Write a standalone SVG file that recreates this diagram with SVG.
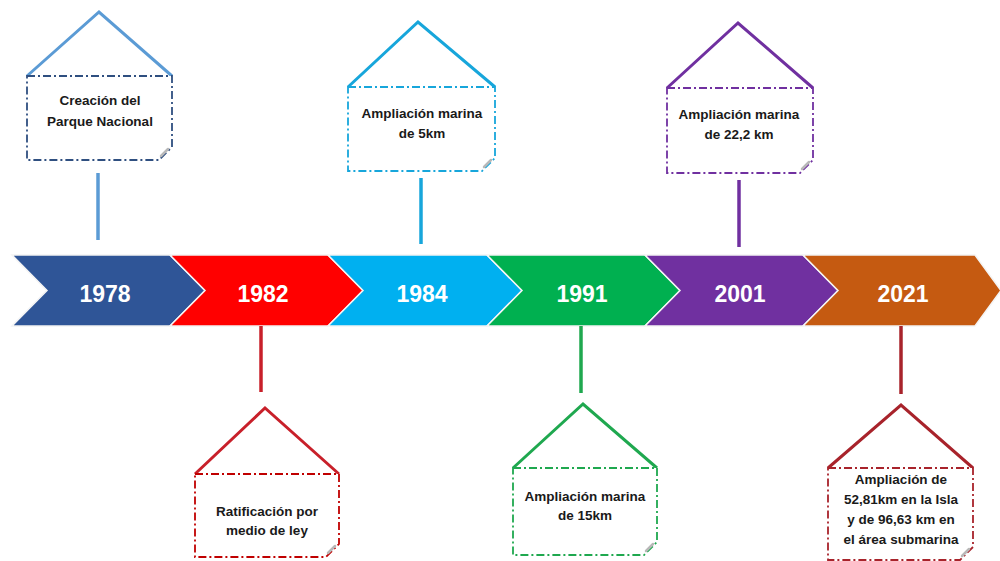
<svg xmlns="http://www.w3.org/2000/svg" width="1000" height="561" viewBox="0 0 1000 561">
<style>
.bg{fill:#ffffff}
.chev{stroke:#f4f4f4;stroke-width:1.5;stroke-linejoin:miter}
.year{font-family:"Liberation Sans",Arial,sans-serif;font-weight:bold;font-size:23px;fill:#ffffff;text-anchor:middle}
.lbl{font-family:"Liberation Sans",Arial,sans-serif;font-weight:bold;font-size:13.5px;fill:#1a1a1a;text-anchor:middle}
.roof{fill:none;stroke-width:3;stroke-linejoin:miter}
.box{fill:#ffffff;stroke-width:1.8;stroke-dasharray:8 3 2 3}
.stem{stroke-width:3.5;fill:none}
.fold{fill:none;stroke:#b8b8b8;stroke-width:2.5;stroke-linecap:round}
</style>
<rect class="bg" x="0" y="0" width="1000" height="561"/>

<g id="timeline">
  <polygon class="chev" fill="#2F5597" points="12,255 170,255 205,290.5 170,326 12,326 47,290.5"/>
  <polygon class="chev" fill="#FF0000" points="170,255 328,255 363,290.5 328,326 170,326 205,290.5"/>
  <polygon class="chev" fill="#00B0F0" points="328,255 487,255 522,290.5 487,326 328,326 363,290.5"/>
  <polygon class="chev" fill="#00B050" points="487,255 645,255 680,290.5 645,326 487,326 522,290.5"/>
  <polygon class="chev" fill="#7030A0" points="645,255 803,255 838,290.5 803,326 645,326 680,290.5"/>
  <polygon class="chev" fill="#C55A11" points="803,255 975,255 1001,290.5 975,326 803,326 838,290.5"/>
  <text class="year" x="105" y="302">1978</text>
  <text class="year" x="263" y="302">1982</text>
  <text class="year" x="422" y="302">1984</text>
  <text class="year" x="582" y="302">1991</text>
  <text class="year" x="740" y="302">2001</text>
  <text class="year" x="903" y="302">2021</text>
</g>

<g id="connectors">
  <line class="stem" stroke="#5B9BD5" x1="98" y1="173" x2="98" y2="240"/>
  <line class="stem" stroke="#17A6DB" x1="421" y1="178" x2="421" y2="244"/>
  <line class="stem" stroke="#7030A0" x1="739" y1="180" x2="739" y2="247"/>
  <line class="stem" stroke="#C8202A" x1="261" y1="326" x2="261" y2="392"/>
  <line class="stem" stroke="#1FA84F" x1="581" y1="326" x2="581" y2="393"/>
  <line class="stem" stroke="#A8232B" x1="901" y1="326" x2="901" y2="394"/>
</g>

<g id="node-1978">
  <polyline class="roof" stroke="#5B9BD5" points="27,76 99,12 172,76"/>
  <path class="box" stroke="#2F4F80" d="M27,76 H172 V147 L159,160 H27 Z"/>
  <path class="fold" d="M161,156 L168,149"/>
  <text class="lbl" x="100" y="105">Creación del</text>
  <text class="lbl" x="100" y="126">Parque Nacional</text>
</g>

<g id="node-1984">
  <polyline class="roof" stroke="#17A6DB" points="348,87 418,22 495,87"/>
  <path class="box" stroke="#17A6DB" d="M348,87 H495 V158 L482,171 H348 Z"/>
  <path class="fold" d="M484,167 L491,160"/>
  <text class="lbl" x="422" y="118">Ampliación marina</text>
  <text class="lbl" x="422" y="138">de 5km</text>
</g>

<g id="node-2001">
  <polyline class="roof" stroke="#7030A0" points="667,88 738,23 813,88"/>
  <path class="box" stroke="#7030A0" d="M667,88 H813 V160 L800,173 H667 Z"/>
  <path class="fold" d="M802,169 L809,162"/>
  <text class="lbl" x="739" y="119">Ampliación marina</text>
  <text class="lbl" x="739" y="139">de 22,2 km</text>
</g>

<g id="node-1982">
  <polyline class="roof" stroke="#C8202A" points="195,474 265,408 339,474"/>
  <path class="box" stroke="#C00000" d="M195,474 H339 V544 L326,557 H195 Z"/>
  <path class="fold" d="M328,553 L335,546"/>
  <text class="lbl" x="267" y="516">Ratificación por</text>
  <text class="lbl" x="267" y="535">medio de ley</text>
</g>

<g id="node-1991">
  <polyline class="roof" stroke="#1FA84F" points="513,468 583,404 657,468"/>
  <path class="box" stroke="#1FA84F" d="M513,468 H657 V542 L644,555 H513 Z"/>
  <path class="fold" d="M646,551 L653,544"/>
  <text class="lbl" x="585" y="501">Ampliación marina</text>
  <text class="lbl" x="585" y="520">de 15km</text>
</g>

<g id="node-2021">
  <polyline class="roof" stroke="#A8232B" points="828,468 901,405 973,468"/>
  <path class="box" stroke="#A8232B" d="M828,468 H973 V547 L960,560 H828 Z"/>
  <path class="fold" d="M962,556 L969,549"/>
  <text class="lbl" x="901" y="484">Ampliación de</text>
  <text class="lbl" x="901" y="504">52,81km en la Isla</text>
  <text class="lbl" x="901" y="524">y de 96,63 km en</text>
  <text class="lbl" x="901" y="544">el área submarina</text>
</g>
</svg>
